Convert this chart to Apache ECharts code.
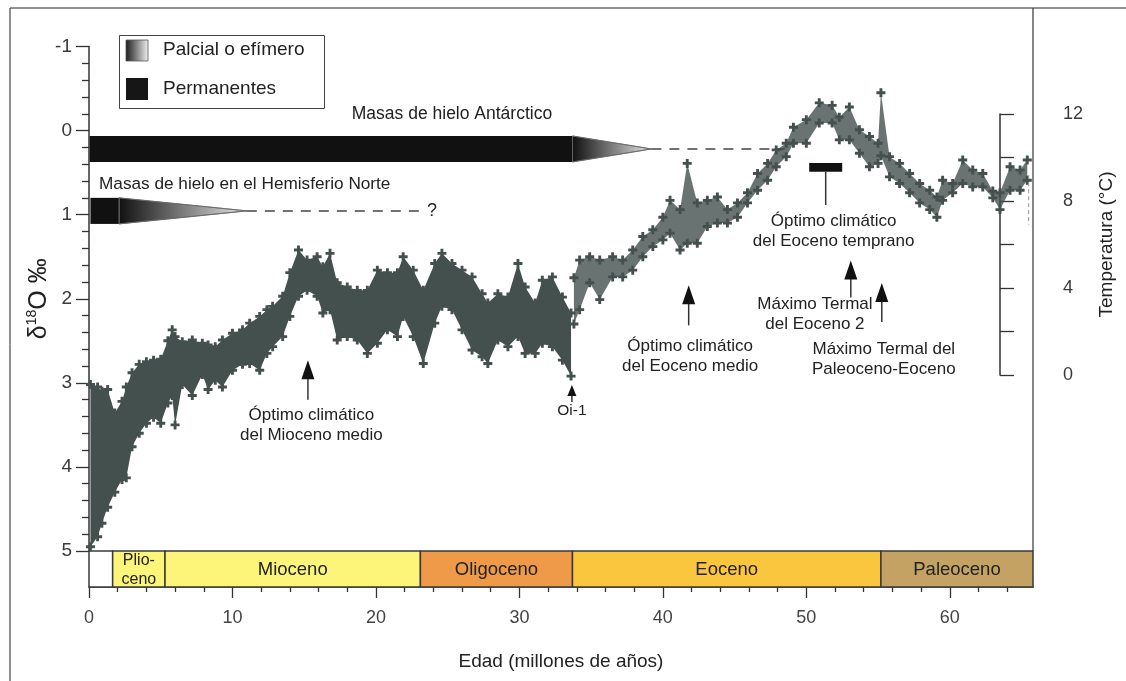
<!DOCTYPE html>
<html><head><meta charset="utf-8">
<script src="https://cdn.jsdelivr.net/npm/echarts@6/dist/echarts.min.js"></script>
<style>html,body{margin:0;padding:0;background:#fff}#c{width:1126px;height:681px}</style>
</head><body><div id="c"></div>
<script>
// ---------------- DATA ----------------
// age (Ma) of each sample column of the δ18O cloud
const ages = [0.1,0.6,0.9,1.3,1.8,2.3,2.6,3.0,3.5,4.0,4.5,5.0,5.5,5.8,6.0,6.5,7.2,7.9,8.3,8.8,9.3,10.0,10.7,11.2,11.9,12.4,12.8,13.5,14.0,14.6,15.2,15.9,16.3,16.8,17.3,18.0,18.7,19.4,20.1,20.8,21.5,21.9,22.6,23.3,24.1,24.6,25.3,26.0,26.7,27.4,27.8,28.5,29.2,29.9,30.4,31.1,31.6,32.3,33.0,33.6,
  33.8,34.2,34.9,35.6,36.5,37.2,37.9,38.6,39.3,40.0,40.5,41.2,41.7,42.4,43.1,43.8,44.5,45.2,45.9,46.6,47.3,47.9,48.6,49.1,50.0,50.9,51.8,52.3,53.0,53.7,54.4,55.0,55.2,55.8,56.5,57.2,57.9,58.6,59.1,59.5,60.2,60.9,61.6,62.3,63.0,63.5,64.2,64.9,65.4];
// upper edge of the cloud (lowest δ18O) per column
const d18oTop = [3.02,3.05,3.10,3.08,3.36,3.22,3.05,2.88,2.78,2.75,2.73,2.72,2.50,2.37,2.45,2.51,2.49,2.53,2.55,2.57,2.49,2.41,2.37,2.29,2.21,2.13,2.09,1.97,1.69,1.42,1.54,1.50,1.62,1.46,1.81,1.86,1.90,1.90,1.66,1.69,1.69,1.50,1.66,1.90,1.58,1.46,1.58,1.66,1.74,1.94,2.05,1.94,1.98,1.58,1.86,2.05,1.78,1.74,1.98,2.17,
  1.75,1.54,1.50,1.54,1.50,1.54,1.42,1.26,1.18,1.03,0.83,0.94,0.39,0.86,0.83,0.79,0.94,0.86,0.74,0.51,0.39,0.23,0.15,-0.04,-0.13,-0.33,-0.30,-0.16,-0.28,-0.01,0.07,0.15,-0.45,0.31,0.39,0.51,0.63,0.71,0.79,0.59,0.63,0.35,0.47,0.51,0.72,0.74,0.43,0.47,0.35];
// lower edge of the cloud (highest δ18O) per column
const d18oBottom = [4.95,4.83,4.67,4.48,4.30,4.15,4.13,3.76,3.60,3.48,3.41,3.48,3.24,3.15,3.50,3.02,3.15,2.90,3.08,2.97,3.05,2.85,2.78,2.77,2.85,2.65,2.57,2.45,2.21,1.97,1.90,1.97,2.17,2.13,2.49,2.45,2.49,2.65,2.53,2.37,2.45,2.21,2.45,2.77,2.29,2.09,2.13,2.37,2.61,2.69,2.77,2.49,2.57,2.45,2.65,2.65,2.53,2.57,2.73,2.92,
  2.30,2.13,1.81,2.01,1.74,1.74,1.66,1.50,1.38,1.30,1.22,1.42,1.34,1.34,1.14,1.10,1.10,1.03,0.86,0.71,0.59,0.43,0.31,0.15,0.15,-0.09,-0.09,0.11,0.11,0.27,0.43,0.39,0.30,0.55,0.63,0.74,0.86,0.94,1.03,0.83,0.74,0.63,0.67,0.67,0.80,0.94,0.71,0.71,0.59];

// epochs
const epochNames = ['', 'Plio-\nceno', 'Mioceno', 'Oligoceno', 'Eoceno', 'Paleoceno'];
const epochStart = [0, 1.65, 5.3, 23.1, 33.7, 55.2];
const epochEnd   = [1.65, 5.3, 23.1, 33.7, 55.2, 65.8];
const epochColors = ['#ffffff', '#fdf47a', '#fdf47a', '#ee9a48', '#f9c63e', '#c4a263'];

// axis ticks
const xMajorTicks = [0, 10, 20, 30, 40, 50, 60];
const xMinorTicks = [2,4,6,8,12,14,16,18,22,24,26,28,32,34,36,38,42,44,46,48,52,54,56,58,62,64];
const tempLabelTicks = [0, 4, 8, 12];

// ice sheets: [start, end permanent, end partial, end dashed] (Ma) and δ18O band
const antarcticIce = [0.05, 33.7, 39.2, 48.5];
const antarcticIceRange = [0.064, 0.373];
const northIce = [0.1, 2.1, 11.0, 23.0];
const northIceRange = [0.80, 1.11];
const questionMark = [23.9, 0.956];

// Early Eocene climatic optimum bar: [ageStart, ageEnd], [δTop, δBottom], stem end
const eecoAges = [50.2, 52.5];
const eecoRange = [0.385, 0.49];
const eecoStemEnd = 0.885;

// arrows: age, tip δ, tail δ
const arrowAges  = [15.26, 33.66, 41.8, 53.1, 55.26];
const arrowTips  = [2.73, 3.025, 1.84, 1.544, 1.812];
const arrowTails = [3.20, 3.227, 2.316, 1.984, 2.276];

// annotation texts
const noteTexts = ['Óptimo climático\ndel Mioceno medio', 'Oi-1', 'Óptimo climático\ndel Eoceno medio',
  'Máximo Termal\ndel Eoceno 2', 'Máximo Termal del\nPaleoceno-Eoceno', 'Óptimo climático\ndel Eoceno temprano',
  'Masas de hielo Antárctico'];
const noteAges = [15.5, 33.66, 41.9, 50.6, 55.4, 51.9, 25.3];
const noteVals = [3.50, 3.334, 2.68, 2.18, 2.716, 1.194, -0.197];
const northLabel = ['Masas de hielo en el Hemisferio Norte', 0.7, 0.635];
const recordEndMark = [65.5, 0.53, 1.12];

// ---------------- CHART ----------------
const FONT = '"Liberation Sans", Arial, Helvetica, sans-serif';
const XMAX = 65.8;
const DOT = '#44504d';
const TXT = '#222';
const AX = '#333';
const chart = echarts.init(document.getElementById('c'));
const splitIdx = ages.findIndex(a => a > 33.7);

function txt(x, y, text, size, align, lh) {
  return {type: 'text', x: x, y: y, style: {text: text, fill: TXT, fontSize: size, fontFamily: FONT,
    align: align || 'center', verticalAlign: 'middle', textAlign: align || 'center', textVerticalAlign: 'middle', lineHeight: lh || 20}};
}

function renderBand(params, api) {
  if (params.dataIndex !== 0) return null;
  const parts = [[0, splitIdx], [splitIdx, ages.length]];
  return {type: 'group', children: parts.map(function (p, k) {
    const pts = [];
    for (let i = p[0]; i < p[1]; i++) pts.push(api.coord([ages[i], d18oTop[i]]));
    for (let i = p[1] - 1; i >= p[0]; i--) pts.push(api.coord([ages[i], d18oBottom[i]]));
    return {type: 'polygon', shape: {points: pts}, style: {fill: DOT, opacity: k === 0 ? 1 : 0.8}};
  })};
}

function renderNotes(params, api) {
  if (params.dataIndex !== 0) return null;
  const c = (x, y) => api.coord([x, y]);
  const ch = [];
  [[antarcticIce, antarcticIceRange], [northIce, northIceRange]].forEach(function (pair) {
    const seg = pair[0], rng = pair[1];
    const p0 = c(seg[0], rng[0]), p1 = c(seg[1], rng[1]);
    ch.push({type: 'rect', shape: {x: p0[0], y: p0[1], width: p1[0] - p0[0], height: p1[1] - p0[1]}, style: {fill: '#111'}});
    const mid = (rng[0] + rng[1]) / 2;
    const t0 = c(seg[1], rng[0]), t1 = c(seg[1], rng[1]), tip = c(seg[2], mid);
    ch.push({type: 'polygon', shape: {points: [t0, tip, t1]}, style: {
      fill: new echarts.graphic.LinearGradient(t0[0], 0, tip[0], 0, [{offset: 0, color: '#111'}, {offset: 1, color: '#e6e6e6'}], true),
      stroke: '#666', lineWidth: 0.8}});
    const d1 = c(seg[3], mid);
    ch.push({type: 'line', shape: {x1: tip[0], y1: tip[1], x2: d1[0], y2: d1[1]}, style: {stroke: '#444', lineWidth: 1.5, lineDash: [10, 8]}});
  });
  const q = c(questionMark[0], questionMark[1]);
  ch.push(txt(q[0], q[1], '?', 18));
  const nl = c(northLabel[1], northLabel[2]);
  ch.push(txt(nl[0], nl[1], northLabel[0], 17.2, 'left'));
  // EECO bar
  const e0 = c(eecoAges[0], eecoRange[0]), e1 = c(eecoAges[1], eecoRange[1]);
  ch.push({type: 'rect', shape: {x: e0[0], y: e0[1], width: e1[0] - e0[0], height: e1[1] - e0[1]}, style: {fill: '#111'}});
  const sx = (e0[0] + e1[0]) / 2, se = c(0, eecoStemEnd)[1];
  ch.push({type: 'line', shape: {x1: sx, y1: e1[1], x2: sx, y2: se}, style: {stroke: AX, lineWidth: 1.5}});
  // arrows
  arrowAges.forEach(function (a, i) {
    const tip = c(a, arrowTips[i]), tail = c(a, arrowTails[i]);
    const hl = i === 1 ? 11 : 19, hw = i === 1 ? 4.5 : 6.5;
    ch.push({type: 'line', shape: {x1: tip[0], y1: tip[1] + hl - 1, x2: tail[0], y2: tail[1]}, style: {stroke: AX, lineWidth: 1.5}});
    ch.push({type: 'polygon', shape: {points: [[tip[0], tip[1]], [tip[0] - hw, tip[1] + hl], [tip[0] + hw, tip[1] + hl]]}, style: {fill: '#111'}});
  });
  // texts
  noteTexts.forEach(function (t, i) {
    const p = c(noteAges[i], noteVals[i]);
    ch.push(txt(p[0], p[1], t, i === 6 ? 17.5 : (i === 1 ? 15.5 : 17)));
  });
  // record end mark
  const m0 = c(recordEndMark[0], recordEndMark[1]), m1 = c(recordEndMark[0], recordEndMark[2]);
  ch.push({type: 'line', shape: {x1: m0[0], y1: m0[1], x2: m1[0], y2: m1[1]}, style: {stroke: '#999', lineWidth: 1, lineDash: [4, 3]}});
  return {type: 'group', children: ch};
}

function renderEpoch(params, api) {
  const i = api.value(2);
  const p0 = api.coord([api.value(0), 1]), p1 = api.coord([api.value(1), 0]);
  return {type: 'group', children: [
    {type: 'rect', shape: {x: p0[0], y: p0[1], width: p1[0] - p0[0], height: p1[1] - p0[1]},
      style: {fill: epochColors[i], stroke: '#3a3a3a', lineWidth: 1.5}},
    txt((p0[0] + p1[0]) / 2, (p0[1] + p1[1]) / 2 + 1, epochNames[i], i === 1 ? 16 : 18.5, 'center', 19)
  ]};
}

const crossData = ages.map((a, i) => [a, d18oTop[i]]).concat(ages.map((a, i) => [a, d18oBottom[i]]));

const option = {
  animation: false,
  backgroundColor: '#fff',
  grid: [
    {left: 89, width: 944, top: 46.5, height: 504.5},
    {left: 89, width: 944, top: 551, height: 36},
    {left: 1000, right: 83, top: 114, height: 261}
  ],
  xAxis: [
    {gridIndex: 0, type: 'value', min: 0, max: XMAX, show: false},
    {gridIndex: 1, type: 'value', min: 0, max: XMAX, position: 'bottom',
      axisLine: {show: true, lineStyle: {color: AX, width: 1.5}},
      axisTick: {show: true, customValues: xMajorTicks, length: 11, lineStyle: {color: AX, width: 1.3}},
      axisLabel: {show: true, customValues: xMajorTicks, fontSize: 18, color: '#444', fontFamily: FONT, margin: 22},
      splitLine: {show: false},
      name: 'Edad (millones de años)', nameLocation: 'middle', nameGap: 65, nameMoveOverlap: false,
      nameTextStyle: {fontSize: 19, color: TXT, fontFamily: FONT}},
    {gridIndex: 1, type: 'value', min: 0, max: XMAX, position: 'bottom',
      axisLine: {show: false},
      axisTick: {show: true, customValues: xMinorTicks, length: 5, lineStyle: {color: AX, width: 1.3}},
      axisLabel: {show: false}, splitLine: {show: false}},
    {gridIndex: 2, type: 'value', show: false}
  ],
  yAxis: [
    {gridIndex: 0, type: 'value', min: -1, max: 5, interval: 1, inverse: true,
      axisLine: {show: true, lineStyle: {color: AX, width: 1.5}},
      axisTick: {show: true, length: 13, lineStyle: {color: AX, width: 1.3}},
      minorTick: {show: true, splitNumber: 5, length: 7, lineStyle: {color: AX, width: 1.3}},
      axisLabel: {fontSize: 19, color: '#3a3a3a', fontFamily: FONT, margin: 17},
      splitLine: {show: false},
      name: '{d|δ}{s|18}{d|O ‰}', nameLocation: 'middle', nameGap: 36, nameRotate: 90, nameMoveOverlap: false,
      nameTextStyle: {color: TXT, fontFamily: FONT, rich: {
        d: {fontSize: 25, lineHeight: 28, fontFamily: FONT, color: TXT},
        s: {fontSize: 14, lineHeight: 14, verticalAlign: 'top', fontFamily: FONT, color: TXT}}}},
    {gridIndex: 1, type: 'value', min: 0, max: 1, show: false},
    {gridIndex: 2, type: 'value', min: 0, max: 12, interval: 2, position: 'right',
      axisLine: {show: true, lineStyle: {color: AX, width: 1.5}},
      axisTick: {show: true, length: 14, lineStyle: {color: AX, width: 1.3}},
      axisLabel: {fontSize: 18, color: '#3a3a3a', fontFamily: FONT, margin: 20,
        formatter: v => tempLabelTicks.indexOf(v) >= 0 ? String(v) : ''},
      splitLine: {show: false},
      name: 'Temperatura (°C)', nameLocation: 'middle', nameGap: 54, nameRotate: 90, nameMoveOverlap: false,
      nameTextStyle: {fontSize: 19, color: TXT, fontFamily: FONT}}
  ],
  series: [
    {type: 'custom', xAxisIndex: 0, yAxisIndex: 0, data: [[0, 0]], renderItem: renderBand, silent: true, z: 2},
    {type: 'scatter', xAxisIndex: 0, yAxisIndex: 0, data: crossData, silent: true, z: 3,
      symbol: 'path://M3.4,0H6.6V3.4H10V6.6H6.6V10H3.4V6.6H0V3.4H3.4Z', symbolSize: 9, itemStyle: {color: DOT, opacity: 1}},
    {type: 'custom', xAxisIndex: 0, yAxisIndex: 0, data: [[0, 0]], renderItem: renderNotes, silent: true, z: 5},
    {type: 'custom', xAxisIndex: 1, yAxisIndex: 1, data: epochStart.map((s, i) => [s, epochEnd[i], i]), renderItem: renderEpoch, silent: true, z: 1}
  ]
};
chart.setOption(option);

const rightX = chart.convertToPixel({xAxisIndex: 0}, XMAX);
const bottomY = chart.convertToPixel({yAxisIndex: 0}, 5);
const legendText = (y, t) => ({type: 'text', x: 163, y: y, style: {text: t, fill: TXT, fontSize: 19, fontFamily: FONT,
  align: 'left', verticalAlign: 'middle', textAlign: 'left', textVerticalAlign: 'middle'}});
chart.setOption({graphic: [
  {type: 'line', shape: {x1: 10, y1: 8, x2: 1126, y2: 8}, style: {stroke: '#222', lineWidth: 1}},
  {type: 'line', shape: {x1: 10, y1: 8, x2: 10, y2: 681}, style: {stroke: '#222', lineWidth: 1}},
  {type: 'line', shape: {x1: rightX, y1: 8, x2: rightX, y2: bottomY}, style: {stroke: '#444', lineWidth: 1.3}},
  {type: 'rect', shape: {x: 119.5, y: 35.5, width: 205, height: 73}, style: {fill: '#fff', stroke: '#444', lineWidth: 1}},
  {type: 'rect', shape: {x: 126, y: 40, width: 22, height: 21}, style: {
    fill: new echarts.graphic.LinearGradient(0, 0, 1, 0, [{offset: 0, color: '#1a1a1a'}, {offset: 1, color: '#f2f2f2'}]),
    stroke: '#555', lineWidth: 0.8}},
  {type: 'rect', shape: {x: 126, y: 78, width: 22, height: 22}, style: {fill: '#161616'}},
  legendText(50, 'Palcial o efímero'),
  legendText(89, 'Permanentes')
]});
</script>
</body></html>
